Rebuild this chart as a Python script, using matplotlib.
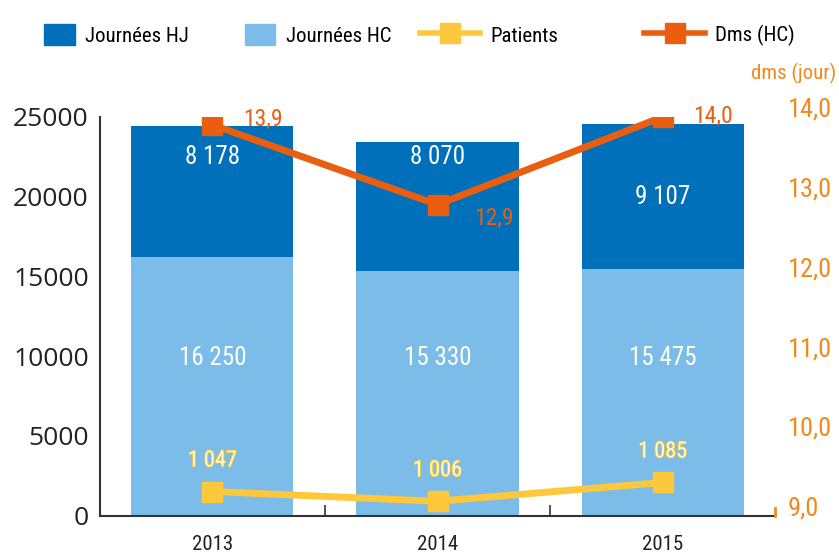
import matplotlib
matplotlib.use("Agg")
import matplotlib.pyplot as plt
import matplotlib.patheffects as pe
from matplotlib import font_manager
from matplotlib.lines import Line2D
from matplotlib.patches import Patch

years = ["2013", "2014", "2015"]
journees_hc = [16250, 15330, 15475]
journees_hj = [8178, 8070, 9107]
patients = [1047, 1006, 1085]
dms_hc = [13.9, 12.9, 14.0]

hj_label_y = [22500, 22500, 20000]
hc_label_y = 9900

# condensed font if there is one
cond = "DejaVu Sans"
for name in ["Liberation Sans Narrow", "Roboto Condensed", "Open Sans Condensed"]:
    try:
        font_manager.findfont(name, fallback_to_default=False)
        cond = name
        break
    except Exception:
        pass

dark_blue = "#0070ba"
light_blue = "#7bbde8"
yellow = "#fdc83c"
orange = "#e95e0f"
axis_orange = "#f08a1c"

fig = plt.figure(figsize=(8.39, 5.54), dpi=100)
ax = fig.add_axes([0.119, 0.069, 0.805, 0.72])
x = list(range(len(years)))

ax.bar(x, journees_hc, width=0.72, color=light_blue)
ax.bar(x, journees_hj, width=0.72, bottom=journees_hc, color=dark_blue)
for i in x:
    ax.text(i, hj_label_y[i], f"{journees_hj[i]:,}".replace(",", " "),
            ha="center", va="center", color="white", fontsize=18, family=cond)
    ax.text(i, hc_label_y, f"{journees_hc[i]:,}".replace(",", " "),
            ha="center", va="center", color="white", fontsize=18, family=cond)

ax.set_xlim(-0.5, 2.5)
ax.set_ylim(0, 25000)
ax.set_yticks([0, 5000, 10000, 15000, 20000, 25000])
ax.set_yticklabels(["0", "5000", "10000", "15000", "20000", "25000"],
                   fontsize=19, family="Open Sans", color="#222222")
ax.set_xticks(x)
ax.set_xticklabels(years, fontsize=15, family=cond, color="#222222")
ax.tick_params(axis="x", length=0, pad=14)
ax.tick_params(axis="y", length=0, pad=8)
ax.set_xticks([0.5, 1.5], minor=True)
ax.tick_params(axis="x", which="minor", direction="in", length=8, width=1.2, color="#333333")
for s in ["top", "right"]:
    ax.spines[s].set_visible(False)
ax.spines["left"].set_linewidth(1.5)
ax.spines["bottom"].set_linewidth(1.5)
ax.spines["left"].set_color("#333333")
ax.spines["bottom"].set_color("#333333")

# dms on the right axis
ax2 = ax.twinx()
ax2.set_ylim(9, 14)
ax2.plot(x, dms_hc, color=orange, lw=5, marker="s", markersize=14, zorder=5)
ax2.set_yticks([9, 10, 11, 12, 13, 14])
ax2.set_yticklabels(["9,0", "10,0", "11,0", "12,0", "13,0", "14,0"],
                    fontsize=19, family=cond, color=axis_orange)
ax2.tick_params(axis="y", length=0, pad=9)
for s in ["top", "left", "bottom"]:
    ax2.spines[s].set_visible(False)
ax2.spines["right"].set_bounds(9, 9.1)
ax2.spines["right"].set_color(axis_orange)
ax2.spines["right"].set_linewidth(2)
for lab in ax2.get_yticklabels():
    lab.set_verticalalignment("baseline")
ax2.text(1.09, 1.11, "dms (jour)", transform=ax2.transAxes, ha="right", va="center",
         fontsize=15, family=cond, color=axis_orange, clip_on=False)
dms_off = [(22, 4), (26, -10), (22, 0)]
for i in x:
    ax2.annotate(f"{dms_hc[i]:.1f}".replace(".", ","), (i, dms_hc[i]),
                 xytext=dms_off[i], textcoords="offset points",
                 ha="left", va="center", color=orange, fontsize=17, family=cond)

# patients on a hidden axis
ax3 = ax.twinx()
ax3.set_ylim(945, 2622)
ax3.axis("off")
ax3.plot(x, patients, color=yellow, lw=5, marker="s", markersize=14, zorder=5)
for i in x:
    ax3.annotate(f"{patients[i]:,}".replace(",", " "), (i, patients[i]),
                 xytext=(0, 22), textcoords="offset points", ha="center", va="center",
                 color="#fff8dc", fontsize=16, family=cond,
                 path_effects=[pe.withStroke(linewidth=1.2, foreground="#f2c230")])

# legend, one entry at a time
entries = [
    (Patch(color=dark_blue), "Journées HJ", 0.053, 1.45),
    (Patch(color=light_blue), "Journées HC", 0.292, 1.45),
    (Line2D([], [], color=yellow, lw=4, marker="s", markersize=14), "Patients", 0.5, 2.9),
    (Line2D([], [], color=orange, lw=4, marker="s", markersize=14), "Dms (HC)", 0.768, 2.9),
]
for h, lab, xa, hl in entries:
    fig.legend([h], [lab], loc="upper left", bbox_to_anchor=(xa, 0.957), frameon=False,
               borderpad=0, borderaxespad=0, prop={"family": cond, "size": 15},
               handlelength=hl, handleheight=1.2, handletextpad=0.5)

fig.savefig("out.png", dpi=100)
